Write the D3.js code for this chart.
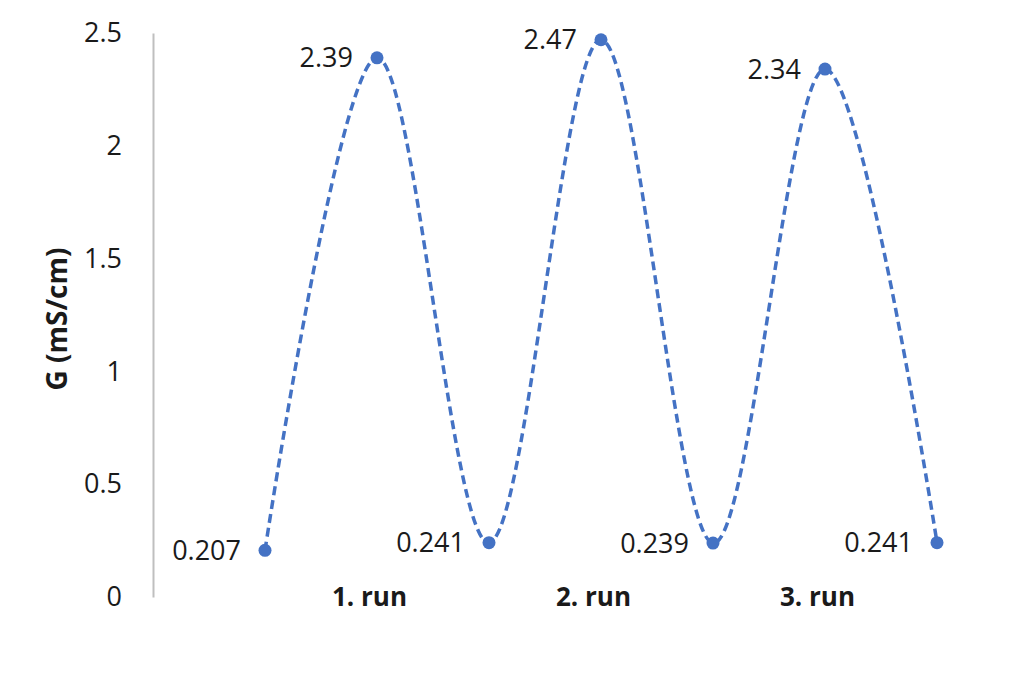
<!DOCTYPE html>
<html><head><meta charset="utf-8">
<script src="https://cdn.jsdelivr.net/npm/d3@7"></script>
<style>body{margin:0;background:#fff}svg{display:block}text{font-family:"Open Sans",sans-serif;fill:#1a1a1a}</style>
</head><body>
<svg id="c" width="1024" height="674"></svg>
<script>
const categories = ["", "1. run", "", "2. run", "", "3. run", ""];
const values = [0.207, 2.39, 0.241, 2.47, 0.239, 2.34, 0.241];
const valueLabels = ["0.207", "2.39", "0.241", "2.47", "0.239", "2.34", "0.241"];
const yTicks = [0, 0.5, 1, 1.5, 2, 2.5];
const yTitle = "G (mS/cm)";

const svg = d3.select("#c");
const x = d3.scalePoint().domain(d3.range(values.length)).range([265, 937]);
const y = d3.scaleLinear().domain([0, 2.5]).range([597, 33]);

// y axis
const yAxis = d3.axisLeft(y).tickValues(yTicks).tickSize(0).tickPadding(31)
  .tickFormat(d => String(d));
const ga = svg.append("g").attr("transform", "translate(153,0)").call(yAxis);
ga.select(".domain").attr("stroke", "#bfbfbf").attr("stroke-width", 2);
ga.selectAll("text").style("font-family", "'Open Sans',sans-serif").style("font-size", "27px").attr("fill", "#1a1a1a");

// x labels
const xAxis = d3.axisBottom(x).tickSize(0).tickPadding(0).tickFormat(i => categories[i]);
const gx = svg.append("g").attr("transform", "translate(0,597)").call(xAxis);
gx.select(".domain").remove();
gx.selectAll("text").attr("dy", "0.35em").attr("dx", -8)
  .style("font-family", "'Open Sans',sans-serif").style("font-size", "26px").style("font-weight", "bold").attr("fill", "#1a1a1a");

// y title
svg.append("text").attr("transform", "translate(57,319) rotate(-90)")
  .attr("text-anchor", "middle").attr("dy", "0.35em")
  .style("font-size", "28px").style("font-weight", "bold").text(yTitle);

// line
const line = d3.line().x((d, i) => x(i)).y(d => y(d)).curve(d3.curveCardinal.tension(0));
svg.append("path").datum(values).attr("d", line).attr("fill", "none")
  .attr("stroke", "#4472C4").attr("stroke-width", 3.5).attr("stroke-dasharray", "9,5");

svg.selectAll("circle.pt").data(values).join("circle").attr("class", "pt")
  .attr("cx", (d, i) => x(i)).attr("cy", d => y(d)).attr("r", 6.5).attr("fill", "#4472C4");

svg.selectAll("text.lbl").data(values).join("text").attr("class", "lbl")
  .attr("x", (d, i) => x(i) - 24).attr("y", d => y(d)).attr("dy", "0.35em")
  .attr("text-anchor", "end").style("font-size", "27px").text((d, i) => valueLabels[i]);
</script>
</body></html>
